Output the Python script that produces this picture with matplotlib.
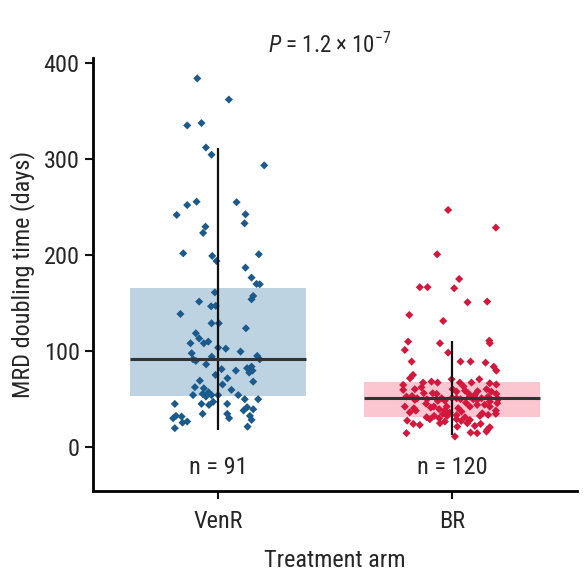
import matplotlib
matplotlib.use("Agg")
import matplotlib.pyplot as plt
from matplotlib import font_manager
import numpy as np

# ---------------- data ----------------
categories = ["VenR", "BR"]
counts = ["n = 91", "n = 120"]

# box statistics (days): lower whisker, Q1, median, Q3, upper whisker
whisker_low = [18, 12.5]
q1 = [53.5, 31]
medians = [91.6, 51]
q3 = [165.6, 68]
whisker_high = [311.5, 110.7]

venr_values = [384, 362, 335, 337.5, 312, 304.5, 293.4, 255.5, 252, 241.7, 255, 242.4, 233,
               229.5, 223, 201.7, 199, 193.75, 200.7, 186.8, 176.4, 169.8, 169.5, 161, 157.3,
               153.8, 151.4, 146.5, 147, 138.5, 128.8, 128.8, 123.6, 118.4, 108, 108, 109.7,
               103.4, 102.4, 97.6, 99.3, 94, 91.3, 89.6, 94.8, 91.3, 81, 75, 79.5, 82, 83.6,
               77.4, 79.5, 71.5, 69, 68, 62.2, 61.1, 59.4, 54, 55.2, 52.4, 54, 54, 54, 49.7,
               49.7, 44.8, 44.8, 43.75, 44.8, 41.3, 39.2, 34.4, 34.4, 32.3, 29.9, 32.3, 31.6,
               29.9, 25.3, 26.4, 28.1, 19.5, 21.1, 57, 65, 86, 47, 38, 113]
venr_jitter = [-0.088, 0.047, -0.131, -0.07, -0.051, -0.027, 0.198, -0.091, -0.131, -0.176,
               0.08, 0.118, 0.114, -0.053, -0.063, -0.148, -0.024, -0.006, 0.175, 0.118, 0.144,
               0.165, 0.179, -0.013, 0.151, 0.144, -0.08, -0.029, -0.009, -0.16, -0.027, 0.004,
               0.12, -0.094, -0.117, -0.06, -0.041, 0.001, 0.034, -0.112, 0.097, -0.026, -0.106,
               -0.094, 0.168, 0.179, 0.016, -0.01, 0.077, 0.125, 0.144, 0.134, 0.148, 0.041,
               -0.077, 0.151, -0.098, -0.06, 0.058, -0.106, -0.065, -0.051, -0.027, 0.001,
               0.087, 0.115, 0.172, -0.184, -0.07, -0.038, 0.04, 0.125, 0.151, -0.065, 0.04,
               0.137, -0.191, -0.179, -0.155, 0.048, -0.151, -0.131, 0.144, -0.184, 0.127,
               -0.04, 0.02, -0.05, -0.02, 0.11, -0.08]

br_values = [246.9, 228.5, 200.7, 175, 166.4, 166.4, 165.3, 150.7, 151.4, 137.5, 131.25, 109.7,
             108, 110.7, 108, 101, 98.2, 88.9, 88.9, 88.9, 87.8, 83.6, 79.5, 75, 71.5, 67, 68,
             67, 70.5, 67, 67, 70.5, 66.3, 64.6, 59.4, 60.1, 55.9, 55.2, 60.1, 57.6, 58.6, 55.9,
             54.2, 60.1, 57.6, 55.2, 52.4, 49, 50.7, 49.7, 50.7, 48.2, 50.7, 49.7, 52.4, 49.7,
             49, 50.7, 52.4, 47.2, 49.7, 45.5, 42, 40.3, 37.8, 42, 39.3, 42, 40.3, 36.8, 42,
             43.75, 42, 37.8, 30.9, 28.8, 32.3, 29.9, 34.4, 32.3, 35.7, 28.8, 30.9, 28.1, 32.3,
             33.3, 34.4, 27.4, 24, 22.9, 24.7, 26.4, 21.1, 24.7, 21.9, 24, 17.7, 20.5, 14.3,
             10.8, 14.9, 14.3, 16, 62, 45, 38, 58, 46, 53, 35, 63, 44, 27, 56, 41, 33, 65, 48,
             36, 51]
br_jitter = [-0.016, 0.188, -0.063, 0.031, -0.137, -0.104, 0.01, 0.067, 0.151, -0.182, -0.037,
             -0.187, -0.051, 0.16, 0.162, -0.201, -0.016, -0.172, 0.037, 0.08, 0.144, 0.179,
             0.19, -0.166, -0.179, -0.123, -0.087, -0.061, -0.001, 0.034, 0.084, 0.117, 0.162,
             -0.208, -0.208, -0.158, -0.082, -0.065, 0.003, 0.02, 0.056, 0.07, 0.098, 0.148,
             0.169, 0.19, -0.194, -0.158, -0.148, -0.106, -0.044, -0.03, 0.02, 0.037, 0.077,
             0.091, 0.108, 0.127, 0.155, 0.162, 0.198, 0.194, -0.201, -0.162, -0.154, -0.077,
             -0.054, -0.022, 0.027, 0.041, 0.077, 0.108, 0.162, 0.188, -0.108, -0.094, -0.076,
             -0.054, -0.038, -0.02, -0.009, 0.02, 0.056, 0.077, 0.12, 0.155, 0.188, -0.191,
             -0.165, -0.137, -0.051, -0.03, 0.023, 0.066, 0.098, 0.123, 0.151, 0.162, -0.194,
             0.013, 0.08, 0.108, 0.148, -0.13, -0.11, -0.03, 0.11, 0.06, -0.17, 0.13, 0.05,
             0.14, 0.04, -0.12, -0.09, 0.02, 0.19, -0.06, -0.18, 0.0]

p_text = r"$P$ = 1.2 × 10$^{-7}$"

# ---------------- style ----------------
installed = {f.name for f in font_manager.fontManager.ttflist}
cond_fams = [f for f in ["Liberation Sans Narrow", "Arial Narrow", "Roboto Condensed",
                         "Open Sans Condensed", "DejaVu Sans Condensed"] if f in installed]
FONT = cond_fams + ["DejaVu Sans"]
plt.rcParams["font.family"] = FONT
plt.rcParams["font.stretch"] = "condensed"
plt.rcParams["mathtext.fontset"] = "custom"
plt.rcParams["mathtext.rm"] = FONT[0] + ":stretch=condensed"
plt.rcParams["mathtext.it"] = FONT[0] + ":italic:stretch=condensed"

point_colors = ["#1b5a8c", "#d4173c"]
box_colors = ["#bdd3e2", "#fbc6d0"]
line_color = "#111111"
median_color = "#333333"
text_color = "#262626"
FS = 17.5

fig = plt.figure(figsize=(5.88, 5.77), dpi=100)
ax = fig.add_axes([0.158, 0.149, 0.823, 0.750])

box_width = 0.75
positions = np.arange(len(categories))
series_vals = [venr_values, br_values]
series_jit = [venr_jitter, br_jitter]

for i, pos in enumerate(positions):
    ax.bar(pos, q3[i] - q1[i], bottom=q1[i], width=box_width,
           color=box_colors[i], edgecolor="none", zorder=1)
    ax.scatter(pos + np.array(series_jit[i]), series_vals[i], marker="D", s=17,
               color=point_colors[i], edgecolors="none", zorder=3)
    ax.vlines(pos, whisker_low[i], whisker_high[i], color=line_color, lw=1.6, zorder=4)
    ax.hlines(medians[i], pos - box_width / 2, pos + box_width / 2,
              color=median_color, lw=2.2, zorder=4)
    ax.text(pos, -21, counts[i], ha="center", va="center", fontsize=FS, color=text_color)

ax.set_xlim(-0.534, 1.534)
ax.set_ylim(-46, 405)
ax.set_xticks(positions)
ax.set_xticklabels(categories)
ax.set_yticks([0, 100, 200, 300, 400])

for s in ["top", "right"]:
    ax.spines[s].set_visible(False)
ax.spines["left"].set_linewidth(2)
ax.spines["bottom"].set_linewidth(2)
ax.tick_params(axis="both", labelsize=FS, width=1.5, length=6, colors="#111111",
               labelcolor=text_color)
ax.tick_params(axis="x", pad=8)

ax.set_ylabel("MRD doubling time (days)", fontsize=FS, color=text_color, labelpad=6)
ax.set_xlabel("Treatment arm", fontsize=FS, color=text_color, labelpad=11)

fig.text(330 / 588, 1 - 45 / 577, p_text, ha="center", va="center", fontsize=16.5,
         color=text_color)

fig.savefig("out.png", dpi=100, facecolor="white")
